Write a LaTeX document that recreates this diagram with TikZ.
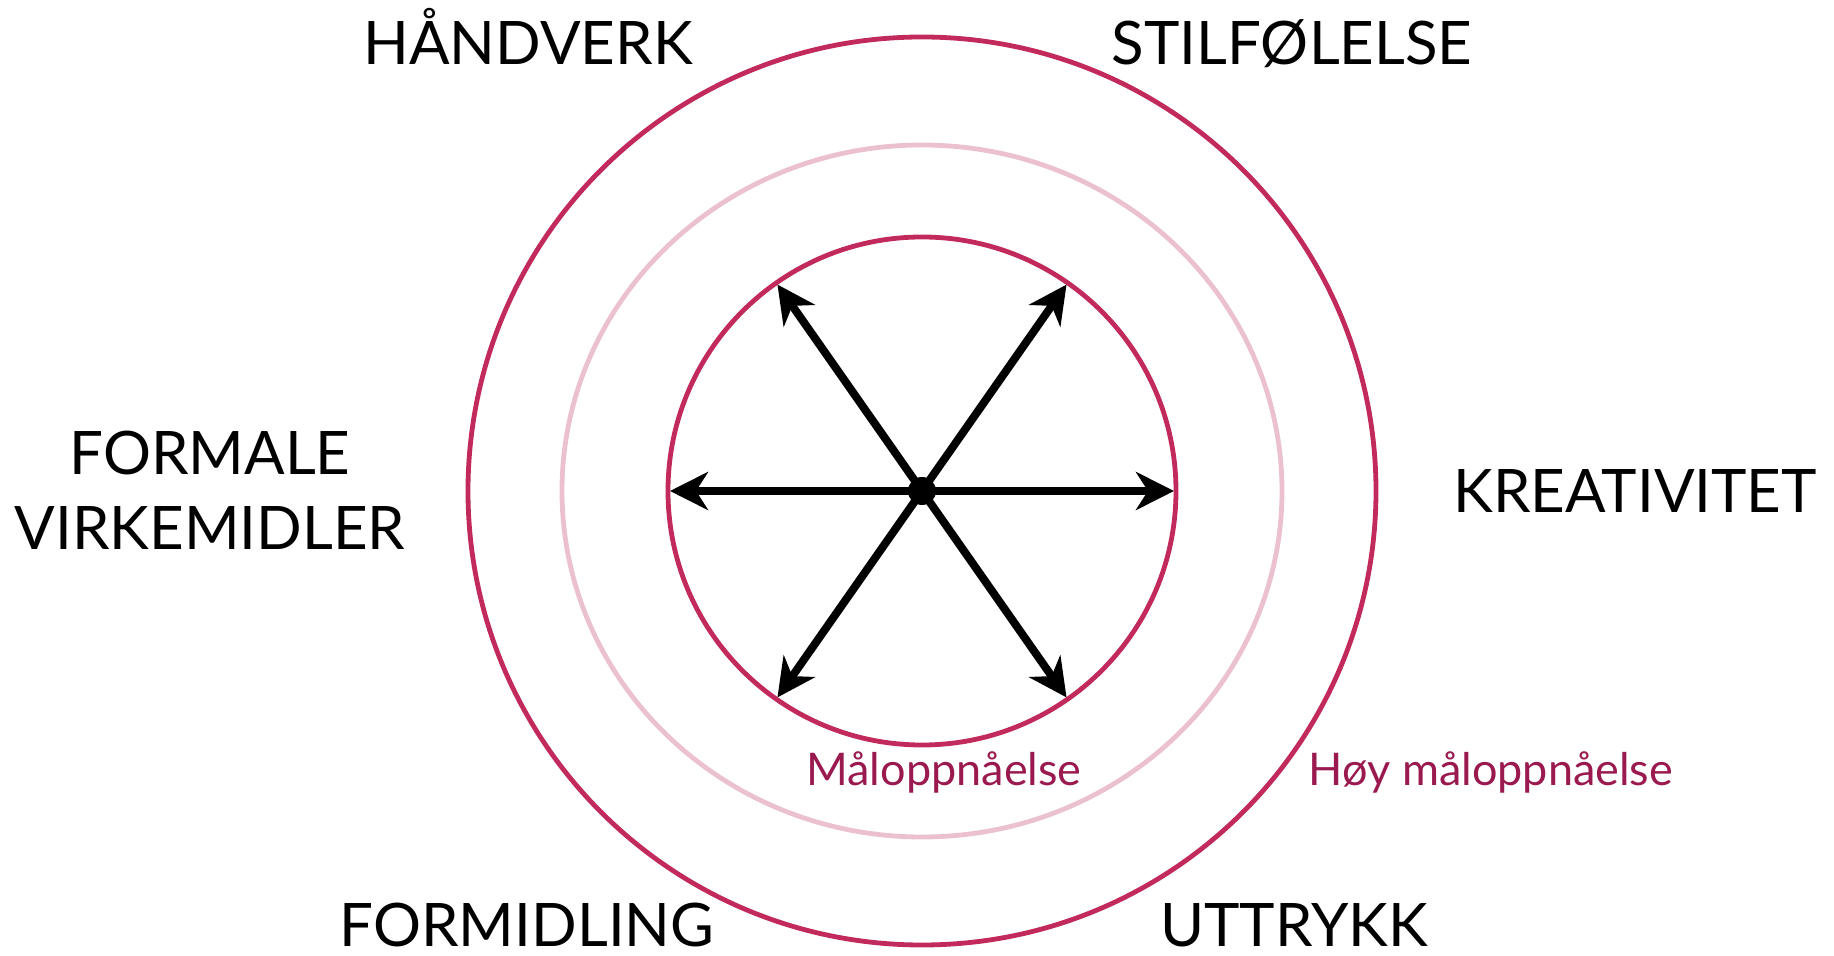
\documentclass[tikz,border=0pt]{standalone}
\usepackage{fontspec}
\setmainfont{Lato}
\usepackage{tikz}
\usetikzlibrary{arrows.meta}

\definecolor{ringred}{HTML}{C12A5B}
\definecolor{ringpink}{HTML}{EBC1CF}
\definecolor{levelpurple}{HTML}{9A1A50}

\tikzset{
  ring/.style={line width=2.4pt,draw=ringred},
  softring/.style={line width=2.4pt,draw=ringpink},
  spoke/.style={line width=4pt,-{Stealth[length=19pt,width=19pt,inset=6pt]}},
  area/.style={anchor=base,inner sep=0pt,font=\fontsize{30}{37.5}\selectfont,align=center},
  level/.style={anchor=base,inner sep=0pt,text=levelpurple,font=\fontsize{22.5}{27}\selectfont}
}

\begin{document}
\begin{tikzpicture}[x=0.5pt,y=0.5pt]
  \useasboundingbox (-922,-465) rectangle (912,491);
  \def\Rout{454}
  \def\Rmx{360}
  \def\Rmy{346}
  \def\Rin{254}
  \coordinate (O) at (0,0);
  % rings
  \draw[ring] (O) circle (\Rout);
  \draw[softring] (O) ellipse [x radius=\Rmx,y radius=\Rmy];
  \draw[ring] (O) circle (\Rin);
  % spokes
  \foreach \a [count=\i] in {0,55,125,180,235,305}{
    \coordinate (T\i) at (\a:\Rin-2);
    \draw[spoke] (O) -- (T\i);
  }
  \fill (O) circle (14);
  % areas
  \node[area] (handverk) at (-394,426) {HÅNDVERK};
  \node[area] (stil) at (370,426) {STILFØLELSE};
  \node[area] (formale) at (-712,-59) {FORMALE\\VIRKEMIDLER};
  \node[area] (kreativ) at (713,-22) {KREATIVITET};
  \node[area] (formidling) at (-395,-455) {FORMIDLING};
  \node[area] (uttrykk) at (372,-455) {UTTRYKK};
  % levels
  \node[level] (mal) at (22,-294) {Måloppnåelse};
  \node[level] (hoy) at (569,-294) {Høy måloppnåelse};
\end{tikzpicture}
\end{document}
